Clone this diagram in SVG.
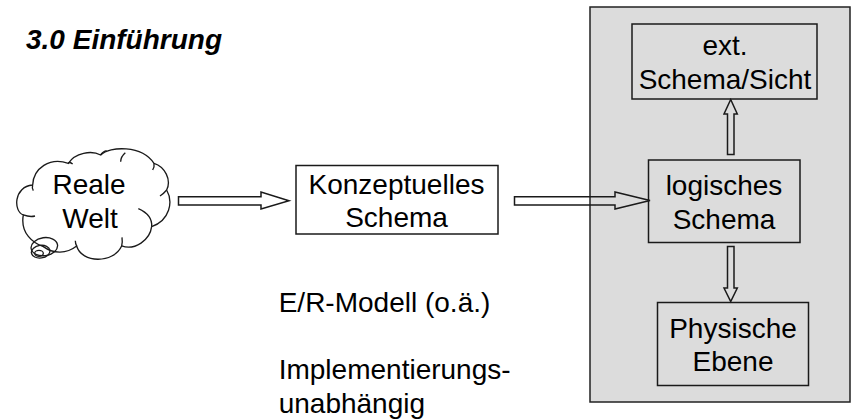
<svg xmlns="http://www.w3.org/2000/svg" width="852" height="420" viewBox="0 0 852 420">
<style>
text{font-family:"Liberation Sans",Arial,sans-serif;font-size:28px;fill:#000}
.c{text-anchor:middle}
.b{fill:none;stroke:#1a1a1a;stroke-width:1.5}
.a{fill:none;stroke:#1a1a1a;stroke-width:1.5;stroke-linejoin:miter}
</style>
<rect id="panel" x="590" y="7" width="260" height="395" fill="#dcdcdc" stroke="#222" stroke-width="1.5"/>
<text id="title" x="26" y="49" style="font-weight:bold;font-style:italic">3.0 Einführung</text>
<g id="cloud" fill="none" stroke="#1a1a1a" stroke-width="1.3">
<g transform="translate(0,130) scale(.3333)" stroke-width="4">
<path d="M98 165C100 115 150 80 205 100C225 68 275 60 302 75C330 48 425 45 462 100C495 110 515 150 500 180C520 215 510 270 455 290C450 330 405 362 365 348C340 402 245 400 230 348C200 372 160 372 130 350C100 340 60 310 70 255C40 245 40 170 98 165"/>
<path d="M98 165Q95 175 100 182M205 100Q208 94 218 102M302 75Q306 66 320 62M362 95Q362 80 376 68M462 100Q464 110 458 120M500 180Q492 190 480 198M455 290Q458 255 415 236M365 348Q368 335 366 322M230 348Q226 340 226 332M70 255Q90 262 105 258"/>
<ellipse cx="133" cy="350" rx="40" ry="27" transform="rotate(-8 133 350)"/>
<ellipse cx="122" cy="365" rx="28" ry="19" transform="rotate(-8 122 365)"/>
<ellipse cx="117" cy="370" rx="13" ry="9"/>
</g>
<text class="c" x="89" y="194" stroke="none">Reale</text>
<text class="c" x="90" y="228" stroke="none">Welt</text>
</g>
<g id="konzept"><rect class="b" x="296" y="165.500" width="202" height="68.500"/><text class="c" x="396.500" y="193.500">Konzeptuelles</text><text class="c" x="396.500" y="227">Schema</text></g>
<g id="logisch"><rect class="b" x="648.500" y="160" width="151.500" height="82.500"/><text class="c" x="724" y="195">logisches</text><text class="c" x="724" y="228.500">Schema</text></g>
<g id="extern"><rect class="b" x="632" y="24" width="185" height="75"/><text class="c" x="725" y="54.500">ext.</text><text class="c" x="725" y="88.500">Schema/Sicht</text></g>
<g id="physisch"><rect class="b" x="657.500" y="302.500" width="151" height="83"/><text class="c" x="733" y="337.500">Physische</text><text class="c" x="733" y="371">Ebene</text></g>
<g id="labels"><text x="278.700" y="312">E/R-Modell (o.ä.)</text><text x="278.700" y="379">Implementierungs-</text><text x="278.700" y="412.500">unabhängig</text></g>
<g id="connectors">
<path class="a" d="M178.500 196.700H261V192L289 200.700L261 209V205H178.500Z"/>
<path class="a" d="M514.500 196.700H615V192L650 200.500L615 209V205H514.500Z"/>
<path class="a" d="M727.500 154.500V114H724L730.700 99.500L737.300 114H734V154.500Z"/>
<path class="a" d="M727.500 246.500V288H724L730.700 301.500L737.300 288H734V246.500Z"/>
</g>
</svg>
